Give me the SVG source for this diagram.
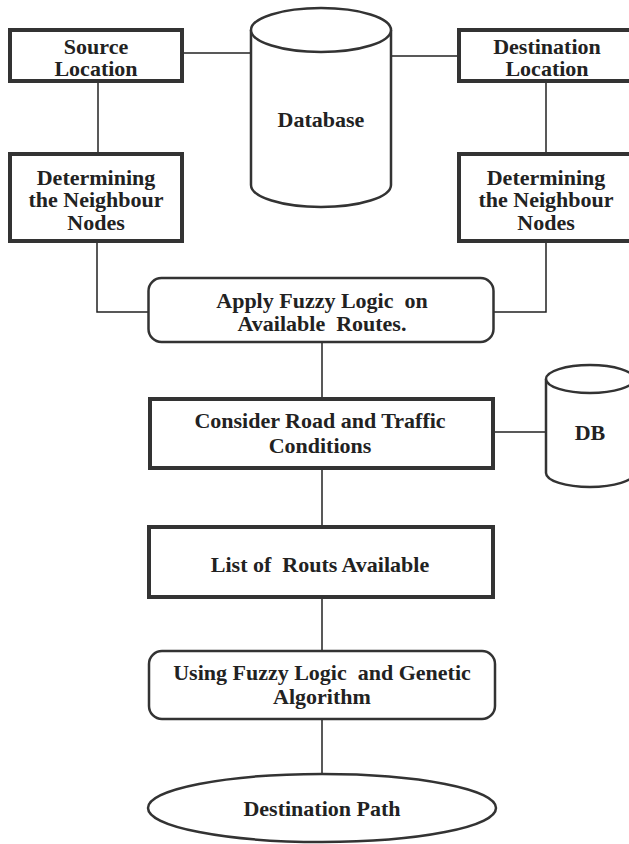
<svg xmlns="http://www.w3.org/2000/svg" width="629" height="844" viewBox="0 0 629 844">
<style>
.box{fill:#fff;stroke:#333;stroke-width:4}
.rbox{fill:#fff;stroke:#333;stroke-width:2.5}
.cyl{fill:#fff;stroke:#333;stroke-width:2.5}
.ln{fill:none;stroke:#222;stroke-width:1.5}
text{font-family:"Liberation Serif","Times New Roman",serif;font-weight:bold;font-size:22px;fill:#222;text-anchor:middle;white-space:pre}
</style>
<rect width="629" height="844" fill="#fff"/>
<g id="connectors">
<path class="ln" d="M184,53 H251"/>
<path class="ln" d="M391,56 H457"/>
<path class="ln" d="M98,83 V152"/>
<path class="ln" d="M546,83 V152"/>
<path class="ln" d="M97,243 V312 H148"/>
<path class="ln" d="M546,243 V312 H493"/>
<path class="ln" d="M322,343 V397"/>
<path class="ln" d="M495,432 H546"/>
<path class="ln" d="M322,470 V525"/>
<path class="ln" d="M322,599 V650"/>
<path class="ln" d="M322,720 V774"/>
</g>
<g id="source">
<rect class="box" x="10" y="30" width="172" height="51"/>
<text x="96" y="54">Source</text>
<text x="96" y="76">Location</text>
</g>
<g id="database">
<path class="cyl" d="M251,30 V185 A70,22 0 0 0 391,185 V30"/>
<ellipse class="cyl" cx="321" cy="30" rx="70" ry="22"/>
<text x="321" y="127">Database</text>
</g>
<g id="destination">
<rect class="box" x="459" y="30" width="180" height="51"/>
<text x="547" y="54">Destination</text>
<text x="547" y="76">Location</text>
</g>
<g id="neighbour-left">
<rect class="box" x="10" y="154" width="172" height="87"/>
<text x="96" y="185">Determining</text>
<text x="96" y="207">the Neighbour</text>
<text x="96" y="230">Nodes</text>
</g>
<g id="neighbour-right">
<rect class="box" x="459" y="154" width="180" height="87"/>
<text x="546" y="185">Determining</text>
<text x="546" y="207">the Neighbour</text>
<text x="546" y="230">Nodes</text>
</g>
<g id="apply">
<rect class="rbox" x="148.5" y="278" width="345" height="64" rx="13"/>
<text x="322" y="308" xml:space="preserve">Apply Fuzzy Logic  on</text>
<text x="322" y="331" xml:space="preserve">Available  Routes.</text>
</g>
<g id="consider">
<rect class="box" x="150" y="399" width="343" height="69"/>
<text x="320" y="428">Consider Road and Traffic</text>
<text x="320" y="453">Conditions</text>
</g>
<g id="db">
<path class="cyl" d="M546,379 V473 A44,14 0 0 0 634,473 V379"/>
<ellipse class="cyl" cx="590" cy="379" rx="44" ry="14"/>
<text x="590" y="440">DB</text>
</g>
<g id="list">
<rect class="box" x="149" y="527" width="344" height="70"/>
<text x="320" y="572" xml:space="preserve">List of  Routs Available</text>
</g>
<g id="using">
<rect class="rbox" x="149" y="651" width="346" height="68" rx="13"/>
<text x="322" y="680" xml:space="preserve">Using Fuzzy Logic  and Genetic</text>
<text x="322" y="704">Algorithm</text>
</g>
<g id="dest-path">
<ellipse class="rbox" cx="322" cy="808" rx="174" ry="34"/>
<text x="322" y="816">Destination Path</text>
</g>
</svg>
